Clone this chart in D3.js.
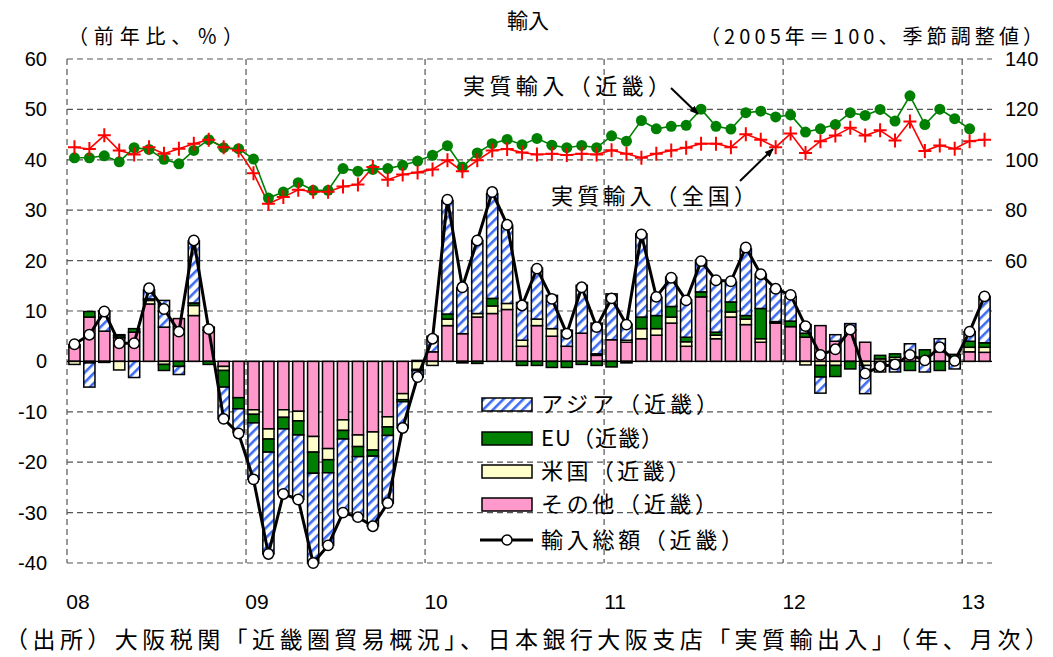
<!DOCTYPE html>
<html><head><meta charset="utf-8">
<script src="https://cdn.jsdelivr.net/npm/d3@7"></script>
<style>body{margin:0;background:#fff}svg{display:block}</style>
</head><body>
<svg id="c" width="1053" height="657"></svg>
<script>
// ---- data (Jan 2008 .. Feb 2013, monthly) ----
const yearLabels = ["08","09","10","11","12","13"];
const months = d3.range(62).map(i => (2008 + Math.floor(i/12)) + "-" + String(i%12+1).padStart(2,"0"));

const other = [2.9,8.8,6.0,4.7,5.8,11.4,6.8,8.5,9.1,6.2,-1.0,-7.2,
  -9.6,-13.4,-9.6,-9.9,-14.9,-17.3,-11.6,-14.6,-14.0,-11.0,-6.4,0.2,
  1.9,7.1,5.5,8.8,9.5,10.3,3.0,7.1,5.0,3.0,5.6,1.2,
  4.3,3.8,4.5,5.2,7.6,3.0,12.8,4.5,8.8,7.3,3.8,7.6,
  6.9,4.8,7.1,4.0,6.2,3.8,-0.4,0.3,1.5,0.0,1.9,0.0,
  1.9,1.8];
const us = [-0.6,-0.3,0,-1.7,0,0.7,-0.6,0,2.0,0,-0.8,0,
  -0.9,-2.0,-1.5,-1.9,-3.1,-2.2,-2.1,-2.3,-3.6,-2.0,-1.2,-1.6,
  -0.8,1.3,0,0.7,1.5,1.2,1.2,1.3,1.5,0,0,0.3,
  0,0.4,2.0,1.3,1.2,0.9,0,0.7,1.0,1.1,0.7,0,
  0,-0.7,-0.8,-0.8,0,-0.8,0.5,0.5,0.3,0,0,0,
  0.9,1.0];
const eu = [0,1.1,-0.2,0.4,0.7,0.3,-1.2,-1.0,0.5,-0.6,-3.3,-2.2,
  -1.7,-2.6,-2.3,-2.8,-4.2,-2.6,-1.7,-2.0,-1.2,-1.7,-0.4,-0.2,
  0,1.0,-0.3,-0.4,1.5,0,-0.8,-0.8,-1.2,-1.2,-0.6,-0.8,
  -1.1,-0.3,2.3,2.6,2.1,0.9,1.0,0.6,2.0,0.7,6.0,0.3,
  1.1,0.8,-2.3,-2.2,-1.5,0,0.7,0.7,-1.8,2.3,-1.8,1.4,
  1.2,0.9];
const asia = [0.4,-4.8,4.0,0.2,-3.2,1.8,5.3,-1.6,12.3,0.6,-6.3,-4.7,
  -11.2,-20.2,-12.9,-12.8,-17.8,-14.4,-14.6,-12.0,-13.9,-13.4,-5.2,-1.3,
  3.1,22.5,9.1,14.5,20.8,15.5,7.5,10.1,6.6,3.2,9.5,6.1,
  9.1,3.2,16.5,3.6,5.8,7.4,6.3,10.2,4.0,13.2,6.8,6.5,
  4.9,1.7,-3.2,1.3,1.3,-5.6,-1.7,-2.1,1.7,-2.1,2.6,-1.5,
  1.9,9.2];
const total = [3.4,5.3,9.9,3.6,3.6,14.5,10.4,5.9,24.0,6.4,-11.4,-14.3,
  -23.4,-38.2,-26.3,-27.4,-40.0,-36.5,-30.0,-30.9,-32.7,-28.1,-13.2,-3.1,
  4.5,32.1,14.7,24.0,33.6,27.1,11.1,18.4,12.4,5.5,14.7,6.8,
  12.5,7.3,25.2,12.8,16.6,12.1,19.9,16.1,15.9,22.6,17.3,14.4,
  13.2,7.0,1.3,2.4,6.3,-2.4,-1.0,-0.6,1.3,0.2,2.8,0.1,
  5.9,12.9];
const realKinki = [100.8,100.8,101.6,99.2,104.8,104.1,100.2,98.4,103.7,108.0,104.8,104.4,
  100.3,84.8,87.2,90.9,87.9,87.9,96.5,95.5,96.2,96.5,97.8,99.5,
  101.8,105.6,97.1,102.7,106.4,108.1,106.0,108.5,105.8,104.8,105.7,104.8,
  109.5,107.4,115.6,112.3,113.3,113.7,120.1,113.3,112.2,118.7,119.3,117.0,
  117.8,111.0,112.3,114.0,118.7,117.6,120.0,115.4,125.4,114.0,120.1,116.3,
  112.3,null];
const realJapan = [105.0,104.3,109.7,103.7,102.1,105.0,102.4,104.4,106.4,108.0,105.0,103.7,
  94.7,82.6,85.2,88.1,87.3,87.3,89.4,90.2,97.1,92.1,94.2,95.0,
  96.2,99.8,95.5,99.8,103.7,104.3,102.9,102.1,102.4,101.9,102.4,102.1,
  103.8,102.4,100.8,102.4,103.7,104.8,106.4,106.4,105.0,110.1,108.0,105.0,
  110.4,102.7,107.4,109.6,112.7,109.6,111.7,107.7,115.2,103.5,105.7,104.4,
  107.4,108.0];
const leftTicks = [60,50,40,30,20,10,0,-10,-20,-30,-40];
const rightTicks = [140,120,100,80,60];

// ---- drawing ----
const svg = d3.select("#c");
const L = 67, R = 992, T = 59, B = 563;
const x = d3.scaleBand().domain(d3.range(months.length)).range([L, R]).paddingInner(0.25).paddingOuter(0.125);
const step = x.step();
const cx = i => x(i) + x.bandwidth()/2;
const yL = d3.scaleLinear().domain([-40, 60]).range([B, T]);
const yR = d3.scaleLinear().domain([-60, 140]).range([B, T]);
const jp = "'Noto Sans CJK JP','Noto Sans',sans-serif";
const num = "'Liberation Sans',Arial,sans-serif";

const defs = svg.append("defs");
const pat = defs.append("pattern").attr("id","asiaPat").attr("patternUnits","userSpaceOnUse")
  .attr("width",7).attr("height",7).attr("patternTransform","rotate(45)");
pat.append("rect").attr("width",7).attr("height",7).attr("fill","#fff");
pat.append("rect").attr("x",0).attr("width",2.6).attr("height",7).attr("fill","#3d6cf2");
const mk = defs.append("marker").attr("id","arr").attr("viewBox","0 0 10 10").attr("refX",9).attr("refY",5)
  .attr("markerWidth",9).attr("markerHeight",9).attr("orient","auto").attr("markerUnits","userSpaceOnUse");
mk.append("path").attr("d","M0,1L10,5L0,9Z").attr("fill","#000");

// grid
const grid = svg.append("g");
leftTicks.filter(v => v !== 0).forEach(v => {
  grid.append("line").attr("x1",L).attr("x2",R).attr("y1",yL(v)).attr("y2",yL(v))
    .attr("stroke","#555").attr("stroke-width",1.2).attr("stroke-dasharray","6,4");
});
yearLabels.forEach((lab,k) => {
  const xx = L + step*12*k;
  grid.append("line").attr("x1",xx).attr("x2",xx).attr("y1",T).attr("y2",B)
    .attr("stroke","#555").attr("stroke-width",1.2).attr("stroke-dasharray","6,4");
});

// stacked bars
const rows = months.map((m,i) => ({i, other:other[i], us:us[i], eu:eu[i], asia:asia[i]}));
const keys = ["other","us","eu","asia"];
const fills = {other:"#ff99cc", us:"#ffffcc", eu:"#008000", asia:"url(#asiaPat)"};
const series = d3.stack().keys(keys).offset(d3.stackOffsetDiverging)(rows);
const bars = svg.append("g");
series.forEach(s => {
  bars.selectAll(null).data(s.filter(d => Math.abs(d[1]-d[0]) > 0.05)).join("rect")
    .attr("x", d => x(d.data.i)).attr("width", x.bandwidth())
    .attr("y", d => yL(Math.max(d[0],d[1]))).attr("height", d => Math.abs(yL(d[0])-yL(d[1])))
    .attr("fill", fills[s.key]).attr("stroke","#000").attr("stroke-width",1.5);
});
// zero line
svg.append("line").attr("x1",L).attr("x2",R).attr("y1",yL(0)).attr("y2",yL(0)).attr("stroke","#000").attr("stroke-width",1.2);

// total line
svg.append("path").datum(total).attr("fill","none").attr("stroke","#000").attr("stroke-width",3)
  .attr("d", d3.line().x((d,i)=>cx(i)).y(d=>yL(d)));
svg.append("g").selectAll("circle").data(total).join("circle")
  .attr("cx",(d,i)=>cx(i)).attr("cy",d=>yL(d)).attr("r",5.2)
  .attr("fill","#fff").attr("stroke","#000").attr("stroke-width",1.5);

// real imports lines
svg.append("path").datum(realJapan).attr("fill","none").attr("stroke","#ff0000").attr("stroke-width",1.6)
  .attr("d", d3.line().defined(d=>d!=null).x((d,i)=>cx(i)).y(d=>yR(d)));
svg.append("path").datum(realKinki).attr("fill","none").attr("stroke","#008000").attr("stroke-width",1.6)
  .attr("d", d3.line().defined(d=>d!=null).x((d,i)=>cx(i)).y(d=>yR(d)));
svg.append("g").selectAll("circle").data(realKinki.map((v,i)=>({v,i})).filter(d=>d.v!=null)).join("circle")
  .attr("cx",d=>cx(d.i)).attr("cy",d=>yR(d.v)).attr("r",5.5).attr("fill","#008000");
svg.append("g").selectAll("path").data(realJapan).join("path")
  .attr("transform",(d,i)=>`translate(${cx(i)},${yR(d)})`)
  .attr("d","M-6.5,0H6.5M0,-7V7").attr("stroke","#ff0000").attr("stroke-width",2).attr("fill","none");

// axis labels
svg.append("g").selectAll("text").data(leftTicks).join("text")
  .attr("x",47).attr("y",d=>yL(d)+7).attr("text-anchor","end")
  .attr("font-family",num).attr("font-size",20).text(d=>d);
svg.append("g").selectAll("text").data(rightTicks).join("text")
  .attr("x",1005).attr("y",d=>yR(d)+7).attr("text-anchor","start")
  .attr("font-family",num).attr("font-size",20).text(d=>d);
svg.append("g").selectAll("text").data(yearLabels).join("text")
  .attr("x",(d,k)=>L + step*12*k + 11).attr("y",609).attr("text-anchor","middle")
  .attr("font-family",num).attr("font-size",21).text(d=>d);

// titles
function jt(txt, xx, yy, len, size, anchor) {
  const t = svg.append("text").attr("x",xx).attr("y",yy).attr("font-family",jp).attr("font-size",size)
    .attr("text-anchor",anchor||"start").text(txt);
  if (len) t.attr("textLength",len).attr("lengthAdjust","spacing");
  return t;
}
jt("輸入", 528, 28, null, 21, "middle");
jt("（前年比、％）", 68, 44, 175, 20);
jt("（2005年＝100、季節調整値）", 700, 44, 343, 20);
jt("実質輸入（近畿）", 463, 94, 207, 22);
jt("実質輸入（全国）", 551, 204, 205, 22);
jt("（出所）大阪税関「近畿圏貿易概況」、日本銀行大阪支店「実質輸出入」（年、月次）", 5, 648, 1043, 23);

// arrows
svg.append("line").attr("x1",671).attr("y1",88).attr("x2",698).attr("y2",114)
  .attr("stroke","#000").attr("stroke-width",2).attr("marker-end","url(#arr)");
svg.append("line").attr("x1",740).attr("y1",181).attr("x2",773).attr("y2",149)
  .attr("stroke","#000").attr("stroke-width",2).attr("marker-end","url(#arr)");

// legend
const lg = svg.append("g");
const items = [
  {k:"asia", label:"アジア（近畿）", y:398, len:177},
  {k:"eu", label:"EU（近畿）", y:432, len:122},
  {k:"us", label:"米国（近畿）", y:465, len:149},
  {k:"other", label:"その他（近畿）", y:498, len:176}
];
items.forEach(it => {
  lg.append("rect").attr("x",482).attr("y",it.y).attr("width",50).attr("height",13)
    .attr("fill",fills[it.k]).attr("stroke","#000").attr("stroke-width",1.5);
  jt(it.label, 541, it.y + 14, it.len, 22);
});
lg.append("line").attr("x1",480).attr("x2",533).attr("y1",540).attr("y2",540).attr("stroke","#000").attr("stroke-width",3);
lg.append("circle").attr("cx",507).attr("cy",540).attr("r",5).attr("fill","#fff").attr("stroke","#000").attr("stroke-width",1.5);
jt("輸入総額（近畿）", 541, 548, 202, 22);
</script>
</body></html>
